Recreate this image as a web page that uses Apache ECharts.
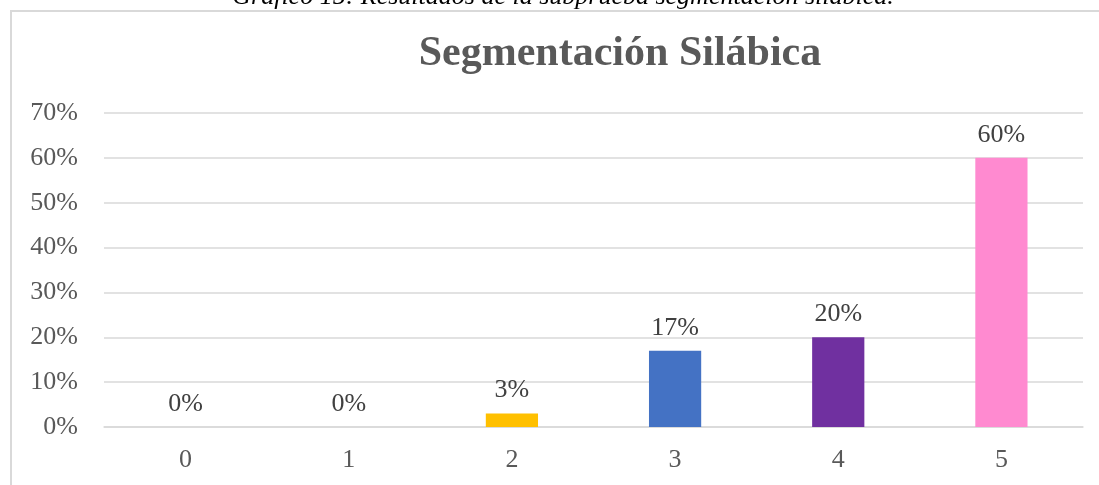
<!DOCTYPE html>
<html>
<head>
<meta charset="utf-8">
<script src="https://cdn.jsdelivr.net/npm/echarts@6/dist/echarts.min.js"></script>
<style>
  html, body { margin: 0; padding: 0; background: #fff; }
  #chart { width: 1099px; height: 485px; }
</style>
</head>
<body>
<div id="chart"></div>
<script>
const categories = ['0', '1', '2', '3', '4', '5']
const values = [0, 0, 3, 17, 20, 60]
const barColors = ['#5B9BD5', '#ED7D31', '#FFC000', '#4472C4', '#7030A0', '#FF8AD0']
const yTicks = [0, 10, 20, 30, 40, 50, 60, 70]

const serif = '"Liberation Serif", "Times New Roman", serif'

const chart = echarts.init(document.getElementById('chart'), null, { renderer: 'canvas' })

chart.setOption({
    backgroundColor: '#fff',
    animation: false,
    graphic: [
        {
            type: 'rect',
            shape: { x: 11, y: 11, width: 1200, height: 600 },
            style: { fill: 'none', stroke: '#d9d9d9', lineWidth: 2 },
            silent: true,
        },
        {
            type: 'text',
            style: {
                x: 563, y: -3,
                text: 'Gráfico 15: Resultados de la subprueba segmentación silábica.',
                align: 'center', verticalAlign: 'middle',
                font: 'italic 26px ' + serif,
                fill: '#000',
            },
        },
        {
            type: 'text',
            style: {
                x: 620, y: 54,
                text: 'Segmentación Silábica',
                align: 'center', verticalAlign: 'middle',
                font: 'bold 42px ' + serif,
                fill: '#595959',
            },
        },
    ],
    grid: { left: 104, right: 16, top: 113, bottom: 58 },
    xAxis: {
        type: 'category',
        data: categories,
        axisTick: { show: false },
        axisLine: { show: true, lineStyle: { color: '#d9d9d9', width: 1.5 } },
        axisLabel: { margin: 20, color: '#595959', fontFamily: serif, fontSize: 26 },
    },
    yAxis: {
        type: 'value',
        min: yTicks[0],
        max: yTicks[yTicks.length - 1],
        interval: 10,
        axisLine: { show: false },
        axisTick: { show: false },
        splitLine: { lineStyle: { color: '#d9d9d9', width: 1.5 } },
        axisLabel: {
            margin: 26,
            color: '#595959', fontFamily: serif, fontSize: 26,
            formatter: v => v + '%',
        },
    },
    series: [{
        type: 'bar',
        data: values.map((v, i) => ({ value: v, itemStyle: { color: barColors[i] } })),
        barWidth: '32%',
        label: {
            show: true,
            position: 'top',
            distance: 10,
            color: '#404040', fontFamily: serif, fontSize: 26,
            formatter: p => p.value + '%',
        },
    }],
})
</script>
</body>
</html>
